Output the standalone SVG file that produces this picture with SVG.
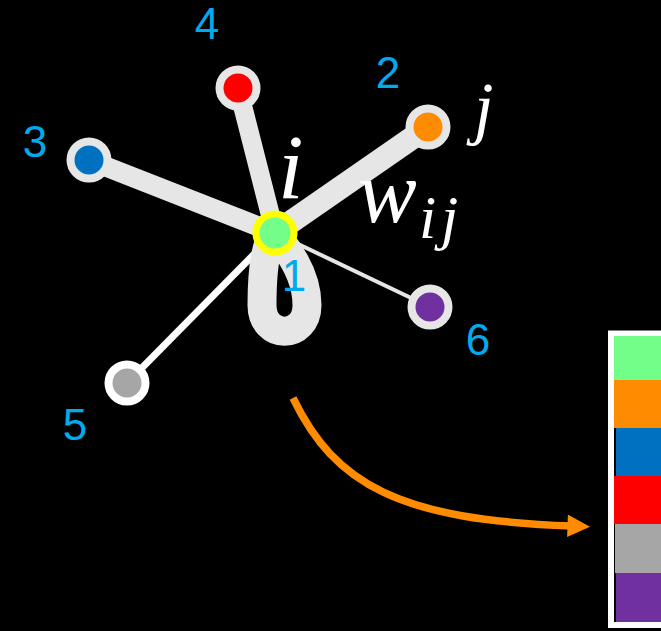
<svg xmlns="http://www.w3.org/2000/svg" width="661" height="631" viewBox="0 0 661 631">
<defs>
<style>
.lbl{font-family:"Liberation Sans",Arial,sans-serif;font-size:44px;fill:#00aaee;text-anchor:middle}
.math{font-family:"Liberation Serif","Times New Roman",serif;font-style:italic;fill:#ffffff}
.edge{stroke:#e6e6e6;stroke-linecap:round;fill:none}
</style>
<marker id="ah" viewBox="0 0 10 10" refX="2" refY="5" markerWidth="3.4" markerHeight="3" orient="auto" markerUnits="strokeWidth">
<path d="M0,0 L10,5 L0,10 Z" fill="#ff8c00"/>
</marker>
</defs>
<rect x="0" y="0" width="661" height="631" fill="#000000"/>
<g id="connectors">
<line class="edge" x1="275" y1="233" x2="89" y2="160" stroke-width="20"/>
<line class="edge" x1="275" y1="233" x2="238" y2="88" stroke-width="19"/>
<line class="edge" x1="275" y1="233" x2="428" y2="127" stroke-width="23"/>
<line class="edge" x1="275" y1="233" x2="430" y2="307" stroke-width="4"/>
<line x1="275" y1="233" x2="127" y2="383" stroke="#ffffff" stroke-width="7"/>
<path class="edge" d="M270,240 C262,260 262,290 262,305 C262,340 307,340 307,305 C307,285 300,265 280,240" stroke-width="29"/>
<path d="M293,398 C335,485 400,520 572,526" fill="none" stroke="#ff8c00" stroke-width="7.5" marker-end="url(#ah)"/>
</g>
<g id="node1">
<circle cx="275" cy="233" r="19" fill="#73fe89" stroke="#ffff00" stroke-width="7"/>
<text class="lbl" x="294" y="291">1</text>
</g>
<g id="node2">
<circle cx="428" cy="127" r="18.5" fill="#ff8c00" stroke="#e6e6e6" stroke-width="8"/>
<text class="lbl" x="388" y="88">2</text>
</g>
<g id="node3">
<circle cx="89" cy="160" r="18.5" fill="#0070c0" stroke="#e6e6e6" stroke-width="8"/>
<text class="lbl" x="35" y="157">3</text>
</g>
<g id="node4">
<circle cx="238" cy="88" r="18.5" fill="#ff0000" stroke="#e6e6e6" stroke-width="8"/>
<text class="lbl" x="207" y="39" font-size="43">4</text>
</g>
<g id="node5">
<circle cx="127" cy="383" r="18.5" fill="#a6a6a6" stroke="#ffffff" stroke-width="8"/>
<text class="lbl" x="75" y="440">5</text>
</g>
<g id="node6">
<circle cx="430" cy="307" r="18.5" fill="#7030a0" stroke="#e6e6e6" stroke-width="8"/>
<text class="lbl" x="478" y="355">6</text>
</g>
<g id="math">
<text class="math" x="278" y="198" font-size="92">i</text>
<text class="math" x="358" y="222" font-size="88">w</text>
<text class="math" x="419" y="238" font-size="62">i</text>
<text class="math" x="441" y="238" font-size="62">j</text>
<text class="math" x="474" y="131" font-size="70">j</text>
</g>
<g id="legend">
<rect x="611" y="333.5" width="56" height="291.5" fill="#000000" stroke="#ffffff" stroke-width="6"/>
<rect x="614" y="336" width="47" height="44" fill="#73fe89"/>
<rect x="614" y="380" width="47" height="48" fill="#ff8c00"/>
<rect x="616" y="428" width="45" height="48" fill="#0070c0"/>
<rect x="614" y="476" width="47" height="48" fill="#ff0000"/>
<rect x="615" y="524" width="46" height="49" fill="#a6a6a6"/>
<rect x="616" y="573" width="45" height="49" fill="#7030a0"/>
</g>
</svg>
